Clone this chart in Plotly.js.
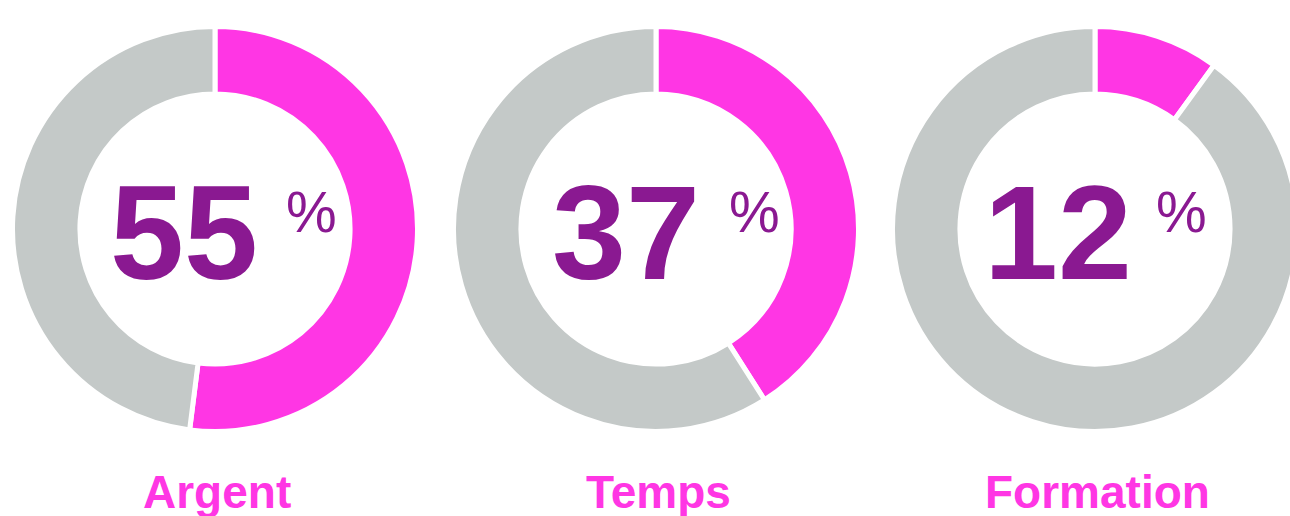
<!DOCTYPE html>
<html>
<head>
<meta charset="utf-8">
<script src="https://cdn.plot.ly/plotly-3.0.1.min.js"></script>
<style>
html,body{margin:0;padding:0;overflow:hidden;background:#fff;}
#chart{width:1300px;height:516px;}
</style>
</head>
<body>
<div id="chart"></div>
<script>
// Data
const categories = ["Argent", "Temps", "Formation"];
const percentLabels = [55, 37, 12];      // numbers printed in the centre
const arcValues = [52, 41, 10];          // share of the ring drawn in pink (read from the arcs)
const sliceLabels = ["Oui", "Autre"];

// Styling / layout constants
const W = 1300, H = 516;
const centersX = [215, 656, 1095];
const centerY = 229;
const R = 202.5;
const pink = "#FF36E4";
const grey = "#C4C9C8";
const purple = "#8A1991";

const traces = categories.map((cat, i) => {
  const cx = centersX[i];
  return {
    type: "pie",
    name: cat,
    labels: sliceLabels,
    values: [arcValues[i], 100 - arcValues[i]],
    sort: false,
    direction: "clockwise",
    rotation: 0,
    hole: 0.667,
    textinfo: "none",
    hoverinfo: "label+percent",
    showlegend: false,
    marker: { colors: [pink, grey], line: { color: "#ffffff", width: 5 } },
    domain: {
      x: [(cx - R) / W, (cx + R) / W],
      y: [1 - (centerY + R) / H, 1 - (centerY - R) / H]
    }
  };
});

const px = x => x / W;
const py = y => 1 - y / H;
const annotations = [];
const numCenter = [183.5, 625.5, 1057.5];
const pctLeft = [287, 730, 1157];
categories.forEach((cat, i) => {
  annotations.push({
    xref: "paper", yref: "paper",
    x: px(numCenter[i]), y: py(233),
    xanchor: "center", yanchor: "middle",
    text: String(percentLabels[i]),
    showarrow: false,
    font: { family: "Liberation Sans, Arial, sans-serif", size: 133, color: purple, weight: "bold" }
  });
  annotations.push({
    xref: "paper", yref: "paper",
    x: px(pctLeft[i] - 3), y: py(212),
    xanchor: "left", yanchor: "middle",
    text: "%",
    showarrow: false,
    font: { family: "Liberation Sans, Arial, sans-serif", size: 57, color: purple }
  });
  annotations.push({
    xref: "paper", yref: "paper",
    x: px(centersX[i] + 2), y: py(492),
    xanchor: "center", yanchor: "middle",
    text: "<b>" + cat + "</b>",
    showarrow: false,
    font: { family: "Liberation Sans, Arial, sans-serif", size: 46, color: pink }
  });
});

const layout = {
  width: W, height: H,
  margin: { l: 0, r: 0, t: 0, b: 0 },
  paper_bgcolor: "#ffffff",
  plot_bgcolor: "#ffffff",
  showlegend: false,
  annotations: annotations
};

Plotly.newPlot("chart", traces, layout, { displayModeBar: false, staticPlot: true });
</script>
</body>
</html>
